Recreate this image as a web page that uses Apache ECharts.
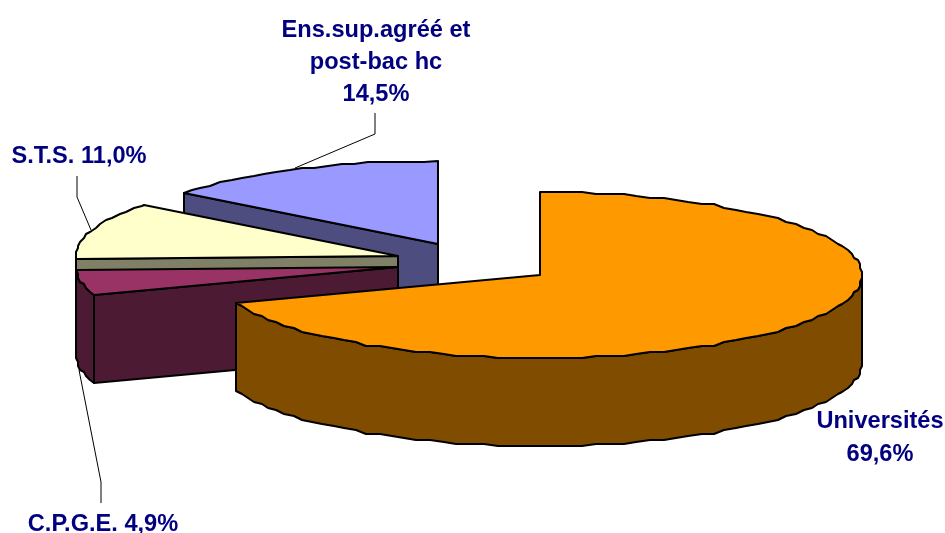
<!DOCTYPE html>
<html><head><meta charset="utf-8">
<style>html,body{margin:0;padding:0;background:#fff}#c{width:945px;height:533px}</style>
<script src="https://cdn.jsdelivr.net/npm/echarts@6/dist/echarts.min.js"></script>
</head><body><div id="c"></div>
<script>
const categories = ['Universités', 'C.P.G.E.', 'S.T.S.', 'Ens.sup.agréé et\npost-bac hc'];
const shares = [69.6, 4.9, 11.0, 14.5];
const separators = ['\n', ' ', ' ', '\n'];

const topColors = ['#FF9900', '#993366', '#FFFFCC', '#9999FF'];
const sideColors = ['#804D00', '#4D1A33', '#808066', '#4D4D80'];
const centers = [[540, 275], [398, 267], [398, 256], [438, 244]];
const RX = 322, RY = 83, DEPTH = 88;
const labelBoxes = [
  {x: 880, y: 438, lh: 33},
  {x: 103, y: 524, lh: 26},
  {x: 79, y: 156, lh: 26},
  {x: 376, y: 62, lh: 32}
];
const leaders = [
  null,
  [[101, 503], [101, 482], [79, 370]],
  [[77, 176], [77, 197], [91, 230]],
  [[375, 113], [375, 134], [295, 168]]
];

const total = shares.reduce((a, b) => a + b, 0);
const fmt = v => v.toFixed(1).replace('.', ',') + '%';
function startAngle(i) {
  let s = 0;
  for (let k = 0; k < i; k++) s += shares[k];
  return s / total * 360;
}
function pt(c, deg, snap) {
  const t = deg * Math.PI / 180, q = snap || 1;
  return [Math.round((c[0] + RX * Math.sin(t)) / q) * q, Math.round((c[1] - RY * Math.cos(t)) / q) * q];
}
function arc(c, a, b) {
  const pts = [];
  const grid = [];
  for (let d = Math.ceil(a / 2.5) * 2.5; d < b; d += 2.5) if (d > a) grid.push(d);
  pts.push(pt(c, a));
  grid.forEach(d => pts.push(pt(c, d, d % 90 === 0 ? 1 : 2)));
  pts.push(pt(c, b));
  return pts;
}
const down = p => [p[0], p[1] + DEPTH];
const poly = (points, fill) => ({
  type: 'polygon', shape: {points},
  style: {fill, stroke: '#000', lineWidth: 2, lineJoin: 'round'}, silent: true
});

function renderItem(params, api) {
  const i = api.value(1), share = api.value(0);
  const a = startAngle(i), b = a + share / total * 360;
  const c = centers[i], side = sideColors[i], children = [];
  const addCut = deg => {
    const e = pt(c, deg);
    children.push(poly([c, e, down(e), down(c)], side));
  };
  if (Math.sin(b * Math.PI / 180) > 0.01) addCut(b);
  if (Math.sin(a * Math.PI / 180) < -0.01) addCut(a);
  const fa = Math.max(a, 90), fb = Math.min(b, 270);
  if (fb > fa) {
    const rim = arc(c, fa, fb);
    children.push(poly(rim.concat(rim.slice().reverse().map(down)), side));
  }
  children.push(poly([c].concat(arc(c, a, b)), topColors[i]));
  if (leaders[i]) children.push({
    type: 'polyline', shape: {points: leaders[i]},
    style: {fill: null, stroke: '#000', lineWidth: 1}, silent: true
  });
  const lb = labelBoxes[i];
  children.push({
    type: 'text', z2: 10, silent: true,
    style: {
      x: lb.x, y: lb.y, align: 'center', verticalAlign: 'middle',
      text: categories[i] + separators[i] + fmt(share),
      font: 'bold 23.6px "Liberation Sans", Arial, sans-serif',
      lineHeight: lb.lh, fill: '#000080'
    }
  });
  return {type: 'group', children};
}

const chart = echarts.init(document.getElementById('c'), null, {width: 945, height: 533});
chart.setOption({
  animation: false,
  backgroundColor: '#fff',
  series: [{
    type: 'custom',
    coordinateSystem: 'none',
    clip: false,
    silent: true,
    renderItem,
    encode: {value: 0},
    data: shares.map((v, i) => [v, i]).reverse()
  }]
});
</script></body></html>
